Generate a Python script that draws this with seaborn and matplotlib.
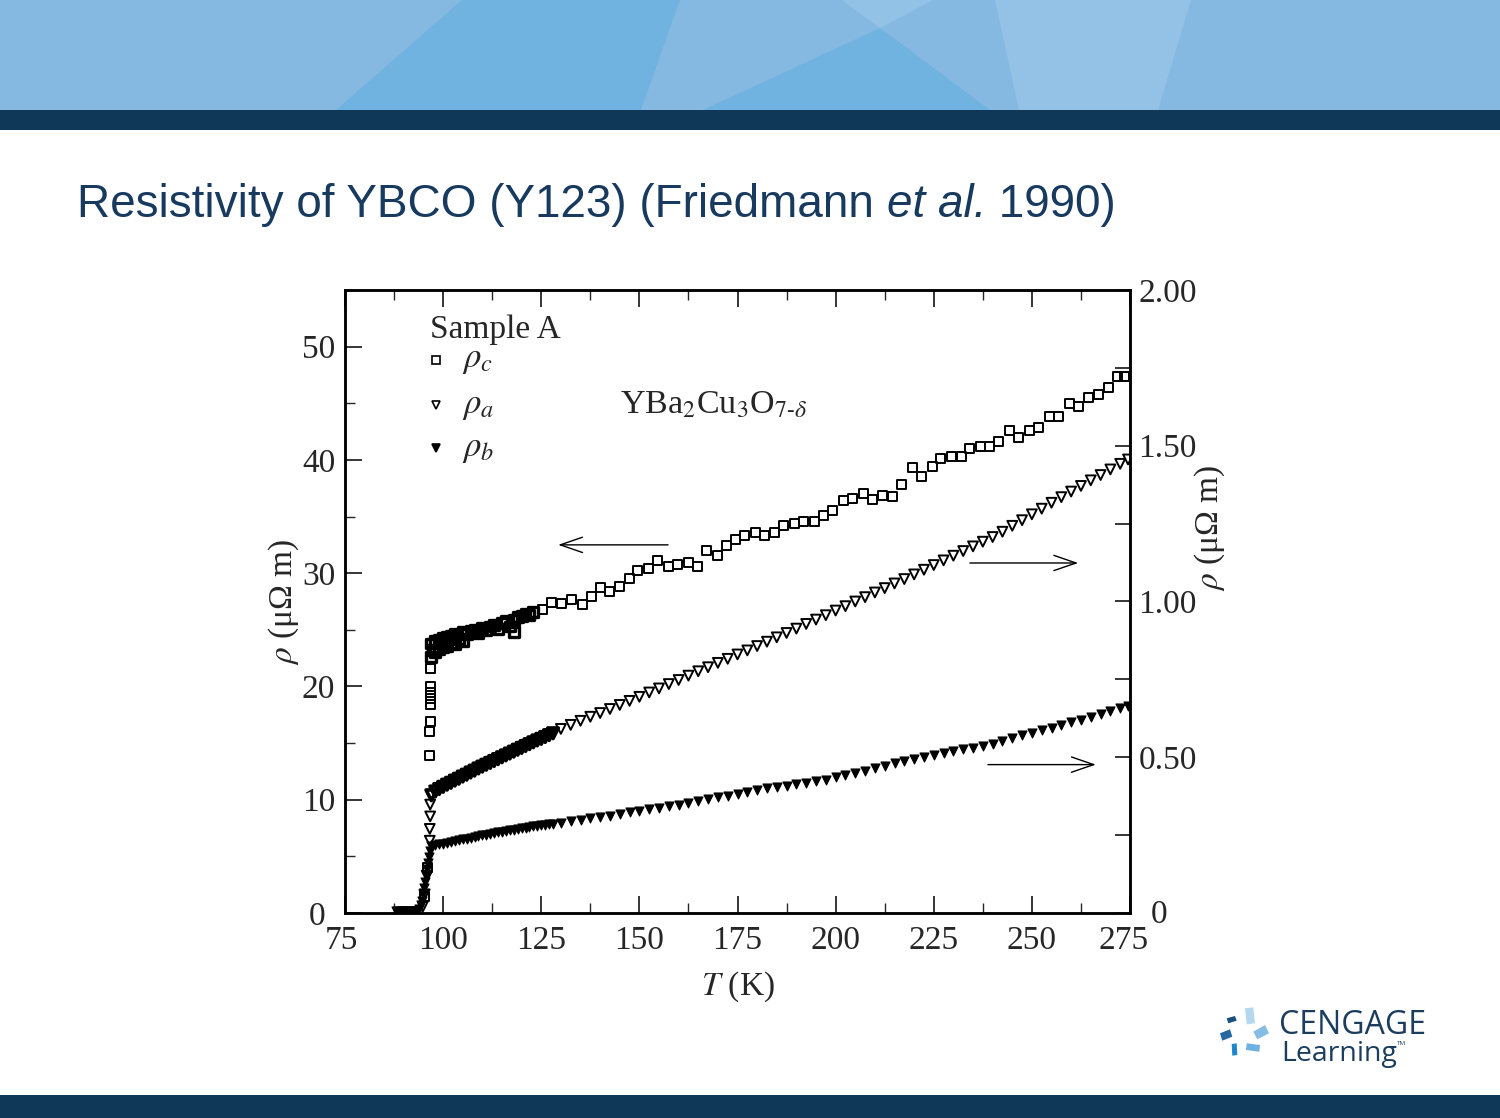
import matplotlib
matplotlib.use('Agg')
import matplotlib.pyplot as plt
import matplotlib.transforms as mtrans
from matplotlib.patches import Polygon, Rectangle
import seaborn as sns

# ---------------- data ----------------
# rho_c (left axis, micro-ohm m): transition, dense part, sparse part
t_c_drop = [95.2, 96.0, 96.6, 96.6, 96.7, 96.7, 96.7, 96.7, 96.7, 96.7]
rho_c_drop = [1.5, 4.0, 13.9, 16.0, 16.9, 18.4, 18.9, 19.5, 20.0, 21.6]

t_c_dense = [97, 97, 97.5, 98, 98, 99, 99, 100, 100, 101, 101, 102, 102, 103, 103,
             104, 105, 105, 106, 107, 108, 109, 110, 111, 112, 113, 114, 115, 116,
             117, 118, 118, 119, 120, 121, 122, 123]
rho_c_dense = [23.8, 22.6, 23.2, 24.0, 23.0, 24.1, 23.3, 24.3, 23.5, 24.4, 23.6, 24.5,
               23.8, 24.6, 23.7, 24.2, 24.8, 24.0, 24.6, 24.9, 25.0, 24.7, 25.2, 25.0,
               25.3, 25.4, 25.1, 25.6, 25.8, 25.3, 25.9, 24.8, 26.1, 26.2, 26.4, 26.3,
               26.6]

t_c_sparse = [125.2, 127.7, 130.2, 132.8, 135.4, 137.9, 140.0, 142.5, 145.0, 147.4,
              149.6, 152.2, 154.7, 157.3, 159.8, 162.4, 164.9, 167.2, 169.8, 172.3,
              174.6, 176.9, 179.5, 182.0, 184.3, 186.8, 189.4, 191.9, 194.5, 197.0,
              199.3, 201.9, 204.4, 207.0, 209.5, 212.0, 214.4, 216.9, 219.5, 222.0,
              224.6, 226.8, 229.4, 232.0, 234.2, 236.8, 239.3, 241.6, 244.2, 246.7,
              249.3, 251.8, 254.4, 256.9, 259.5, 261.8, 264.3, 266.9, 269.4, 271.7,
              273.7]
rho_c_sparse = [26.8, 27.4, 27.3, 27.7, 27.2, 27.9, 28.7, 28.4, 28.8, 29.5,
                30.2, 30.4, 31.1, 30.6, 30.8, 30.9, 30.6, 32.0, 31.6, 32.4,
                33.0, 33.3, 33.6, 33.3, 33.6, 34.2, 34.4, 34.6, 34.6, 35.1,
                35.5, 36.4, 36.6, 37.0, 36.5, 36.9, 36.8, 37.8, 39.3, 38.5,
                39.4, 40.1, 40.3, 40.3, 41.0, 41.2, 41.2, 41.6, 42.6, 42.0,
                42.6, 42.9, 43.8, 43.8, 45.0, 44.7, 45.5, 45.8, 46.4, 47.4,
                47.4]

# rho_a (right axis, micro-ohm m)
t_a_drop = [94.8, 95.3, 95.8, 96.6, 96.6, 96.7, 96.7]
rho_a_drop = [0.02, 0.06, 0.12, 0.232, 0.27, 0.31, 0.348]

t_a_dense = [97, 98, 99, 100, 101, 102, 103, 104, 105, 106, 107, 108, 109, 110, 111,
             112, 113, 114, 115, 116, 117, 118, 119, 120, 121, 122, 123, 124, 125,
             126, 127, 128]
rho_a_dense = [0.378, 0.390, 0.398, 0.405, 0.412, 0.418, 0.425, 0.431, 0.438, 0.444,
               0.451, 0.457, 0.464, 0.470, 0.476, 0.482, 0.488, 0.494, 0.500, 0.506,
               0.512, 0.518, 0.524, 0.530, 0.536, 0.542, 0.548, 0.554, 0.559, 0.565,
               0.571, 0.577]

t_sparse = [130.0, 132.5, 135.0, 137.5, 140.0, 142.5, 145.0, 147.5, 150.0, 152.5,
            155.0, 157.5, 160.0, 162.5, 165.0, 167.5, 170.0, 172.5, 175.0, 177.5,
            180.0, 182.5, 185.0, 187.5, 190.0, 192.5, 195.0, 197.5, 200.0, 202.5,
            205.0, 207.5, 210.0, 212.5, 215.0, 217.5, 220.0, 222.5, 225.0, 227.5,
            230.0, 232.5, 235.0, 237.5, 240.0, 242.5, 245.0, 247.5, 250.0, 252.5,
            255.0, 257.5, 260.0, 262.5, 265.0, 267.5, 270.0, 272.5, 274.5]
rho_a_sparse = [0.591, 0.604, 0.617, 0.630, 0.642, 0.655, 0.668, 0.681, 0.694, 0.708,
                0.721, 0.735, 0.748, 0.762, 0.776, 0.789, 0.803, 0.816, 0.830, 0.843,
                0.857, 0.871, 0.885, 0.899, 0.913, 0.928, 0.942, 0.956, 0.971, 0.985,
                1.000, 1.014, 1.029, 1.043, 1.058, 1.072, 1.087, 1.102, 1.117, 1.132,
                1.147, 1.162, 1.177, 1.192, 1.207, 1.224, 1.243, 1.261, 1.280, 1.298,
                1.317, 1.335, 1.353, 1.371, 1.389, 1.406, 1.424, 1.442, 1.456]

# rho_b (right axis, micro-ohm m)
t_b_low = [88.0, 88.6, 89.2, 89.8, 90.4, 91.0, 91.6, 92.2, 92.8, 93.4, 93.9, 94.3,
           94.6, 94.9, 95.2, 95.5, 95.8, 96.0, 96.2, 96.4, 96.6]
rho_b_low = [0.006, 0.006, 0.006, 0.006, 0.006, 0.006, 0.006, 0.006, 0.006, 0.008,
             0.012, 0.025, 0.04, 0.06, 0.08, 0.10, 0.12, 0.14, 0.16, 0.18, 0.20]

t_b_dense = t_a_dense
rho_b_dense = [0.214, 0.217, 0.220, 0.222, 0.225, 0.228, 0.230, 0.233, 0.236, 0.238,
               0.241, 0.243, 0.246, 0.249, 0.251, 0.254, 0.256, 0.259, 0.261, 0.264,
               0.266, 0.268, 0.270, 0.272, 0.274, 0.276, 0.278, 0.279, 0.281, 0.283,
               0.285, 0.287]
rho_b_sparse = [0.290, 0.294, 0.299, 0.304, 0.308, 0.313, 0.318, 0.323, 0.328, 0.333,
                0.338, 0.343, 0.348, 0.353, 0.359, 0.365, 0.371, 0.377, 0.383, 0.389,
                0.395, 0.400, 0.404, 0.409, 0.413, 0.418, 0.423, 0.428, 0.435, 0.442,
                0.450, 0.457, 0.465, 0.472, 0.480, 0.487, 0.494, 0.501, 0.507, 0.513,
                0.519, 0.525, 0.531, 0.537, 0.544, 0.552, 0.561, 0.570, 0.578, 0.587,
                0.595, 0.604, 0.612, 0.621, 0.630, 0.639, 0.648, 0.657, 0.666]

x_ticks = [75, 100, 125, 150, 175, 200, 225, 250, 275]
left_ticks = [0, 10, 20, 30, 40, 50]
right_ticks = [0, 0.5, 1.0, 1.5, 2.0]
right_labels = ['0', '0.50', '1.00', '1.50', '2.00']

# ---------------- figure ----------------
sns.set_style('ticks')
plt.rcParams['font.family'] = ['Liberation Serif', 'DejaVu Serif']
plt.rcParams['mathtext.fontset'] = 'stix'

W, H = 1500, 1118
NAVY = '#0f3858'


def fx(x):
    return x / W


def fy(y):
    return 1 - y / H


fig = plt.figure(figsize=(15, 11.18), dpi=100)
fig.patch.set_facecolor('white')

# banner
fig.add_artist(Rectangle((0, fy(110)), 1, 110 / H, transform=fig.transFigure,
                         color='#86b9e1', lw=0))
banner_shapes = [
    ([(462, 0), (680, 0), (641, 110), (336, 110)], '#70b2e0'),
    ([(703, 110), (990, 110), (880, 28)], '#70b2e0'),
    ([(842, 0), (933, 0), (880, 28)], '#93c2e7'),
    ([(995, 0), (1191, 0), (1158, 110), (1019, 110)], '#94c2e7'),
]
for pts, col in banner_shapes:
    fig.add_artist(Polygon([(fx(a), fy(b)) for a, b in pts], closed=True,
                           transform=fig.transFigure, color=col, lw=0))
fig.add_artist(Rectangle((0, fy(130)), 1, 20 / H, transform=fig.transFigure,
                         color=NAVY, lw=0))
fig.add_artist(Rectangle((0, 0), 1, 23 / H, transform=fig.transFigure,
                         color=NAVY, lw=0))

# title in three pieces (middle one italic)
tcol = '#173a5e'
renderer = fig.canvas.get_renderer()
x0 = fx(77)
pieces = [('Resistivity of YBCO (Y123) (Friedmann ', 'normal'),
          ('et al.', 'italic'), (' 1990)', 'normal')]
for txt, style in pieces:
    t = fig.text(x0, fy(217), txt, fontsize=33, color=tcol, style=style,
                 family='Liberation Sans', va='baseline', ha='left')
    bb = t.get_window_extent(renderer=renderer)
    x0 = bb.x1 / W

# logo
tiles = [
    ([(1226.7, 1018.3), (1235, 1016), (1236.7, 1020.7), (1228.3, 1023.3)], '#1d4f7c'),
    ([(1245, 1008.3), (1253.3, 1007.3), (1255, 1023.3), (1246.7, 1024.3)], '#b5d8f0'),
    ([(1253.3, 1031.7), (1265, 1025), (1269, 1033.3), (1257.3, 1039.3)], '#86bde4'),
    ([(1220, 1033.3), (1230, 1029.3), (1232.3, 1036.7), (1222.3, 1040.7)], '#2668a2'),
    ([(1231.7, 1044), (1236.7, 1043.3), (1237.3, 1055), (1232.3, 1055.7)], '#1f87c9'),
    ([(1246.7, 1043.3), (1260, 1045), (1259.3, 1051.7), (1246, 1050)], '#6fb1e1'),
]
for pts, col in tiles:
    fig.add_artist(Polygon([(fx(a), fy(b)) for a, b in pts], closed=True,
                           transform=fig.transFigure, color=col, lw=0))
fig.text(fx(1279), fy(1034), 'CENGAGE', fontsize=23, color='#1b3d5e',
         family='Open Sans', va='baseline', ha='left')
fig.text(fx(1281), fy(1061), 'Learning', fontsize=20.5, color='#1b3d5e',
         family='Open Sans', va='baseline', ha='left')
fig.text(fx(1397), fy(1045), 'TM', fontsize=4.5, color='#1b3d5e',
         family='Open Sans', va='baseline', ha='left')

# ---------------- chart ----------------
ax = fig.add_axes([fx(345), fy(913), 785 / W, 623 / H])
ax2 = ax.twinx()

open_kw = dict(facecolor='none', edgecolor='black', legend=False)
# sparse + transition points
sns.scatterplot(x=t_c_drop + t_c_sparse, y=rho_c_drop + rho_c_sparse,
                marker='s', s=42, linewidth=1.4, ax=ax, **open_kw)
sns.scatterplot(x=t_a_drop + t_sparse, y=rho_a_drop + rho_a_sparse,
                marker='v', s=50, linewidth=1.4, ax=ax2, **open_kw)
# densely measured stretch just above Tc: overlapping markers look solid
sns.scatterplot(x=t_c_dense, y=rho_c_dense, marker='s', s=50, linewidth=2.4,
                ax=ax, **open_kw)
sns.scatterplot(x=t_a_dense, y=rho_a_dense, marker='v', s=58, linewidth=2.6,
                ax=ax2, **open_kw)
sns.scatterplot(x=t_b_low + t_b_dense + t_sparse,
                y=rho_b_low + rho_b_dense + rho_b_sparse,
                marker='v', s=42, color='black', edgecolor='black', linewidth=0.8,
                ax=ax2, legend=False)

ax.set_xlim(75, 275)
ax.set_ylim(0, 55)
ax2.set_ylim(0, 2.0)

ax.set_xticks(x_ticks)
ax.set_xticks([87.5 + 25 * i for i in range(8)], minor=True)
ax.set_yticks(left_ticks)
ax.set_yticks([5, 15, 25, 35, 45, 55], minor=True)
ax2.set_yticks(right_ticks)
ax2.set_yticklabels(right_labels)
ax2.set_yticks([0.25, 0.75, 1.25, 1.75], minor=True)

ax.tick_params(axis='both', which='major', direction='in', length=12, width=1.3,
               labelsize=24, pad=7, top=True, right=False)
ax.tick_params(axis='both', which='minor', direction='in', length=7, width=1.0,
               top=True, right=False)
ax.tick_params(axis='x', which='major', pad=9)
ax2.tick_params(axis='y', which='major', direction='in', length=11, width=1.3,
                labelsize=24, pad=6)
ax2.tick_params(axis='y', which='minor', direction='in', length=11, width=1.3)

for a in (ax, ax2):
    for sp in a.spines.values():
        sp.set_linewidth(1.8)
        sp.set_color('black')

ax.set_xlabel(r'$T$ (K)', fontsize=24, labelpad=10)
ax.set_ylabel(r'$\rho$ (μΩ m)', fontsize=24, labelpad=1)
ax2.set_ylabel(r'$\rho$ (μΩ m)', fontsize=24, rotation=90)
ax2.yaxis.set_label_coords(1.08, 0.618)

# nudge the corner labels as in the original layout
px = fig.dpi_scale_trans
ax.get_yticklabels()[0].set_transform(
    ax.get_yticklabels()[0].get_transform() + mtrans.ScaledTranslation(-0.1, 0, px))
ax.get_xticklabels()[0].set_transform(
    ax.get_xticklabels()[0].get_transform() + mtrans.ScaledTranslation(-0.04, 0, px))
ax.get_xticklabels()[-1].set_transform(
    ax.get_xticklabels()[-1].get_transform() + mtrans.ScaledTranslation(-0.06, 0, px))
ax2.get_yticklabels()[0].set_transform(
    ax2.get_yticklabels()[0].get_transform() + mtrans.ScaledTranslation(0.12, 0.02, px))

# legend block
ax2.text(0.108, 0.936, 'Sample A', transform=ax2.transAxes, fontsize=24,
         va='center', ha='left')
leg_rows = [(0.888, 's', 'none', r'$\rho_c$'),
            (0.815, 'v', 'none', r'$\rho_a$'),
            (0.746, 'v', 'black', r'$\rho_b$')]
for yy, mk, fc, lab in leg_rows:
    ax2.plot([0.116], [yy], marker=mk, ms=6, mfc=fc, mec='black', mew=1.2,
             ls='none', transform=ax2.transAxes, clip_on=False)
    ax2.text(0.149, yy, lab, transform=ax2.transAxes, fontsize=25,
             va='center', ha='left')
ax2.text(0.350, 0.815, r'YBa$_2$Cu$_3$O$_{7\text{-}\delta}$', transform=ax2.transAxes,
         fontsize=24.5, va='center', ha='left')

# arrows pointing to the relevant axis
arrow_kw = dict(arrowstyle='->,head_length=1.6,head_width=0.55', lw=1.0,
                color='black', shrinkA=0, shrinkB=0)
ax.annotate('', xy=(129.3, 32.5), xytext=(157.3, 32.5), arrowprops=arrow_kw)
ax.annotate('', xy=(261.8, 30.9), xytext=(234.2, 30.9), arrowprops=arrow_kw)
ax.annotate('', xy=(266.3, 13.1), xytext=(238.8, 13.1), arrowprops=arrow_kw)

fig.savefig('out.png', dpi=100)
